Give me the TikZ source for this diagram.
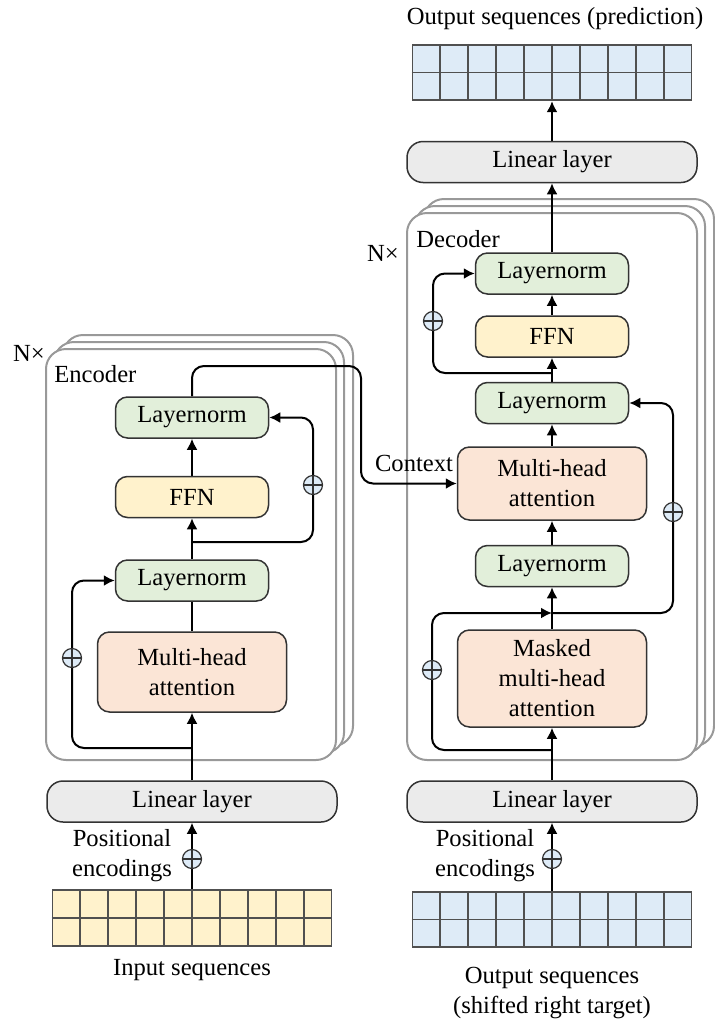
\documentclass[tikz,border=0pt]{standalone}
\usepackage{fontspec}
\setmainfont{Liberation Serif}
\usetikzlibrary{arrows.meta,calc,backgrounds}
\definecolor{lngreen}{HTML}{E2EFDA}
\definecolor{ffnyel}{HTML}{FFF2CC}
\definecolor{mhaor}{HTML}{FBE5D6}
\definecolor{lingray}{HTML}{EBEBEB}
\definecolor{cellblue}{HTML}{DEEBF7}
\definecolor{cellyel}{HTML}{FFF2CC}
\definecolor{boxline}{HTML}{333333}
\definecolor{gridln}{HTML}{505050}
\definecolor{stackline}{HTML}{999999}
\tikzset{
 txt/.style={font=\fontsize{12.3}{15}\selectfont},
 box/.style={txt, draw=boxline, line width=0.75pt, rounded corners=6pt, align=center, inner sep=0pt},
 lnbox/.style={box, fill=lngreen, minimum width=76.5pt, minimum height=20.5pt},
 ffnbox/.style={box, fill=ffnyel, minimum width=76.5pt, minimum height=20.5pt},
 mhabox/.style={box, fill=mhaor, minimum width=94.5pt},
 linbox/.style={box, fill=lingray, minimum width=145pt, minimum height=20.5pt, rounded corners=8pt},
 stackbox/.style={draw=stackline, line width=1pt, fill=white, rounded corners=10pt, minimum width=145pt, inner sep=0pt},
 gridbox/.style={draw=gridln, line width=0.9pt, minimum width=139.5pt, minimum height=27.75pt, inner sep=0pt},
 gridline/.style={draw=gridln, line width=0.9pt},
 oplusnode/.style={circle, draw=boxline, line width=0.6pt, fill=cellblue, minimum size=9.5pt, inner sep=0pt,
   path picture={\draw[line width=0.6pt, boxline] (path picture bounding box.north) -- (path picture bounding box.south) (path picture bounding box.west) -- (path picture bounding box.east);}},
 arr/.style={line width=1pt, -{Latex[length=5.5pt,width=5.5pt]}},
 conn/.style={line width=1pt},
 lbl/.style={txt, align=center, inner sep=0pt},
}
\begin{document}
\begin{tikzpicture}[x=0.5pt,y=-0.5pt]
\useasboundingbox (0,0) rectangle (715,1023);
% stacks
\begin{scope}[on background layer]
\node[stackbox, minimum height=205.5pt] (estack3) at (208,540.5) {};
\node[stackbox, minimum height=205.5pt] (estack2) at (199,547.5) {};
\node[stackbox, minimum height=205.5pt] (estack1) at (191,554.5) {};
\node[stackbox, minimum height=273.5pt] (dstack3) at (569,472.5) {};
\node[stackbox, minimum height=273.5pt] (dstack2) at (560,479.5) {};
\node[stackbox, minimum height=273.5pt] (dstack1) at (552,486.5) {};
\end{scope}
% labels
\node[lbl] (enx) at (29,353) {N×};
\node[lbl] (dnx) at (383,253) {N×};
\node[lbl, anchor=west] (enclbl) at (54,374) {Encoder};
\node[lbl, anchor=west] (declbl) at (416,239) {Decoder};
\node[lbl] (ctxlbl) at (414,463) {Context};
% encoder
\node[gridbox, fill=cellyel] (ein) at (192,918) {};
\foreach \i in {1,...,9} \draw[gridline] ($(ein.north west)!\i/10!(ein.north east)$) -- ($(ein.south west)!\i/10!(ein.south east)$);
\draw[gridline] (ein.west) -- (ein.east);
\node[lbl] (einlbl) at (192,970) {Input sequences};
\node[lbl] (eposlbl) at (122,856) {Positional\\encodings};
\node[oplusnode] (eplus0) at (192,859) {};
\node[linbox] (elin) at (192,801.5) {Linear layer};
\node[mhabox, minimum height=40pt] (emha) at (192,672) {Multi-head\\attention};
\node[lnbox] (eln1) at (192,580.5) {Layernorm};
\node[ffnbox] (effn) at (192,497) {FFN};
\node[lnbox] (eln2) at (192,417.5) {Layernorm};
\node[oplusnode] (eplus1) at (72,658) {};
\node[oplusnode] (eplus2) at (313,485) {};
\coordinate (ej1) at (192,748);
\coordinate (ej2) at (192,542);
\coordinate (ectx) at (361,366);
% decoder
\node[gridbox, fill=cellblue] (din) at (552,919.5) {};
\foreach \i in {1,...,9} \draw[gridline] ($(din.north west)!\i/10!(din.north east)$) -- ($(din.south west)!\i/10!(din.south east)$);
\draw[gridline] (din.west) -- (din.east);
\node[lbl] (dinlbl) at (552,993) {Output sequences\\(shifted right target)};
\node[lbl] (dposlbl) at (485,856) {Positional\\encodings};
\node[oplusnode] (dplus0) at (552,859) {};
\node[linbox] (dlin) at (552,801.5) {Linear layer};
\node[mhabox, minimum height=48.5pt] (dmmha) at (552,678.5) {Masked\\multi-head\\attention};
\node[lnbox] (dln1) at (552,566) {Layernorm};
\node[mhabox, minimum height=36.5pt] (dmha) at (552,483.5) {Multi-head\\attention};
\node[lnbox] (dln2) at (552,403) {Layernorm};
\node[ffnbox] (dffn) at (552,336.5) {FFN};
\node[lnbox] (dln3) at (552,273.5) {Layernorm};
\node[linbox] (dlin2) at (552,162) {Linear layer};
\node[gridbox, fill=cellblue] (dout) at (552,72.5) {};
\foreach \i in {1,...,9} \draw[gridline] ($(dout.north west)!\i/10!(dout.north east)$) -- ($(dout.south west)!\i/10!(dout.south east)$);
\draw[gridline] (dout.west) -- (dout.east);
\node[lbl] (doutlbl) at (555,19) {Output sequences (prediction)};
\node[oplusnode] (dplus1) at (432,670) {};
\node[oplusnode] (dplus2) at (673,512) {};
\node[oplusnode] (dplus3) at (433,321) {};
\coordinate (dj1) at (552,750);
\coordinate (dj2) at (552,613);
\coordinate (dj3) at (552,373);
% connectors
\begin{scope}[on background layer]
\draw[arr] (ein.north) -- (elin.south);
\draw[arr] (elin.north) -- (emha.south);
\draw[conn] (emha.north) -- (eln1.south);
\draw[arr] (eln1.north) -- (effn.south);
\draw[arr] (effn.north) -- (eln2.south);
\draw[arr, rounded corners=6pt] (ej1) -| (eplus1.center) |- (eln1.west);
\draw[arr, rounded corners=6pt] (ej2) -| (eplus2.center) |- (eln2.east);
\draw[arr, rounded corners=6pt] (eln2.north) |- (ectx) |- (dmha.west);
\draw[arr] (din.north) -- (dlin.south);
\draw[arr] (dlin.north) -- (dmmha.south);
\draw[arr] (dmmha.north) -- (dln1.south);
\draw[arr] (dln1.north) -- (dmha.south);
\draw[arr] (dmha.north) -- (dln2.south);
\draw[arr] (dln2.north) -- (dffn.south);
\draw[arr] (dffn.north) -- (dln3.south);
\draw[arr] (dln3.north) -- (dlin2.south);
\draw[arr] (dlin2.north) -- (dout.south);
\draw[arr, rounded corners=6pt] (dj1) -| (dplus1.center) |- (dj2);
\draw[arr, rounded corners=6pt] (dj2) -| (dplus2.center) |- (dln2.east);
\draw[arr, rounded corners=6pt] (dj3) -| (dplus3.center) |- (dln3.west);
\end{scope}
\end{tikzpicture}
\end{document}
